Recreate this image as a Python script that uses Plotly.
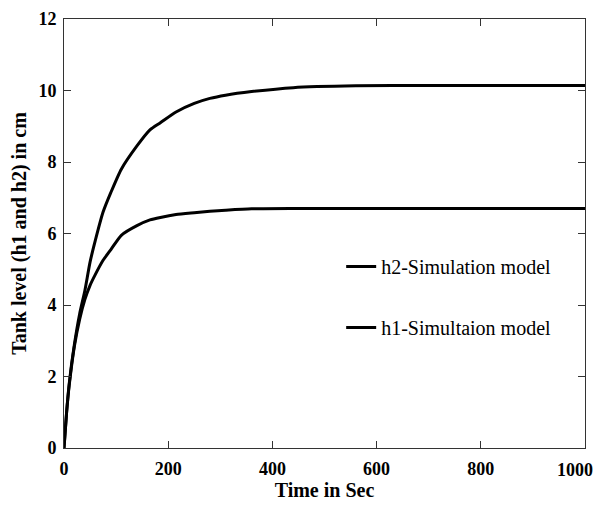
import plotly.graph_objects as go

# time in seconds and tank levels
time_s = [0, 5, 10, 20, 30, 40, 50, 60, 75, 90, 110, 140, 165, 185, 215,
          250, 280, 310, 360, 440, 560, 700, 850, 1000]
h2_level = [0, 1.0, 1.8, 2.9, 3.75, 4.4, 5.2, 5.8, 6.6, 7.15, 7.8, 8.45, 8.9,
            9.1, 9.4, 9.64, 9.78, 9.87, 9.97, 10.08, 10.13, 10.14, 10.14, 10.14]
h1_level = [0, 1.0, 1.75, 2.85, 3.6, 4.15, 4.55, 4.85, 5.25, 5.55, 5.95, 6.22,
            6.38, 6.45, 6.53, 6.58, 6.62, 6.65, 6.69, 6.7, 6.7, 6.7, 6.7, 6.7]

series_names = ["h2-Simulation model", "h1-Simultaion model"]
x_ticks = [0, 200, 400, 600, 800, 1000]
x_ticktext = ["0", "200", "400", "600", "800", ""]  # last label drawn below so it is not cut off
y_ticks = [0, 2, 4, 6, 8, 10, 12]

serif = "Liberation Serif, Times New Roman, serif"
tick_font = dict(family=serif, size=18, color="black", weight="bold")

fig = go.Figure()
fig.add_trace(go.Scatter(x=time_s, y=h2_level, mode="lines", name=series_names[0],
                         legendgroup="a", line=dict(color="black", width=3,
                                                    shape="spline", smoothing=0.6)))
fig.add_trace(go.Scatter(x=time_s, y=h1_level, mode="lines", name=series_names[1],
                         legendgroup="b", line=dict(color="black", width=3,
                                                    shape="spline", smoothing=0.6)))

axis_common = dict(showline=True, linecolor="#333", linewidth=1, mirror="ticks",
                   ticks="inside", ticklen=7, tickcolor="#333", showgrid=False,
                   zeroline=False, automargin=False, tickfont=tick_font)

fig.update_xaxes(range=[0, 1000], tickvals=x_ticks, ticktext=x_ticktext,
                 ticklabelstandoff=4,
                 title=dict(text="<b>Time in Sec</b>", standoff=20,
                            font=dict(family=serif, size=20, color="black")),
                 **axis_common)
fig.update_yaxes(range=[0, 12], tickvals=y_ticks, ticklabelstandoff=3,
                 title=dict(text="<b>Tank level (h1 and h2) in cm</b>", standoff=18,
                            font=dict(family=serif, size=20, color="black")),
                 **axis_common)

fig.add_annotation(x=x_ticks[-1], xref="x", y=0, yref="paper", text=str(x_ticks[-1]),
                   xanchor="right", yanchor="top", xshift=10, yshift=-10,
                   showarrow=False, font=tick_font)

# page body has an 8px margin, so the figure starts 8px in from the window corner
fig.update_layout(
    width=596, height=493,
    margin=dict(l=56, r=19, t=11, b=53),
    plot_bgcolor="white", paper_bgcolor="white",
    legend=dict(x=0.532, y=0.4685, xanchor="left", yanchor="top",
                bgcolor="rgba(0,0,0,0)", tracegroupgap=32,
                font=dict(family=serif, size=20, color="black")),
)

fig.write_html("out.html")
